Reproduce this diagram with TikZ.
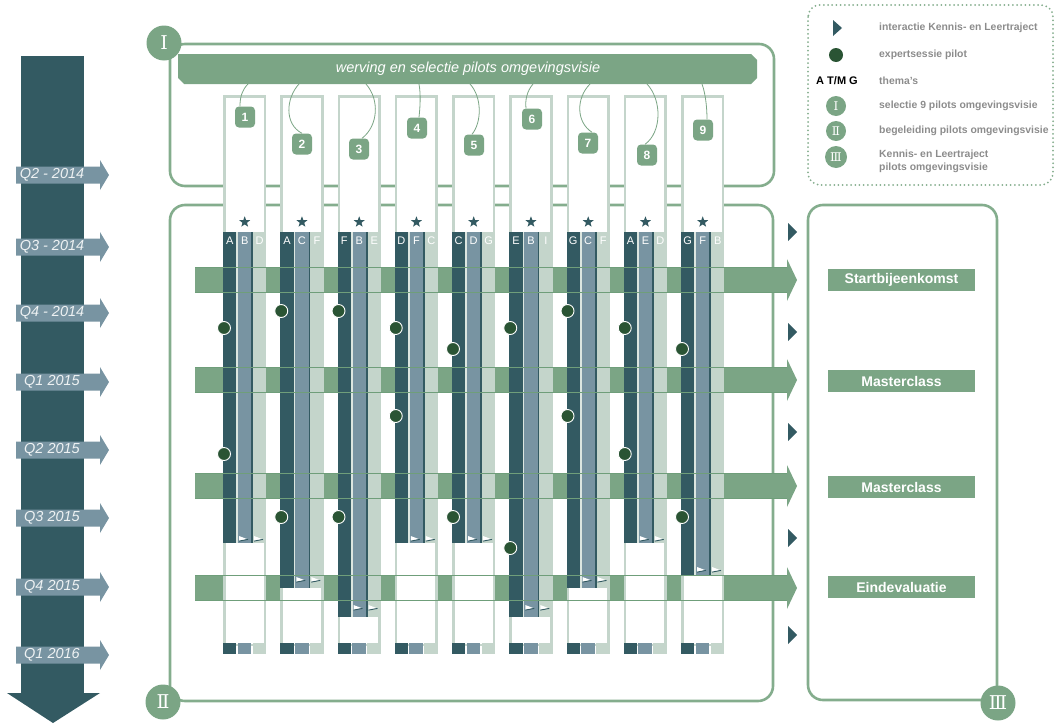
\documentclass[tikz,border=0pt]{standalone}
\usepackage{fontspec}
\setmainfont{Liberation Sans}
\newfontfamily\romfont{DejaVu Serif}
\usetikzlibrary{shapes.geometric}
\definecolor{dteal}{HTML}{335A62}
\definecolor{bgrey}{HTML}{7894A2}
\definecolor{lgreen}{HTML}{C4D5CB}
\definecolor{mgreen}{HTML}{7BA585}
\definecolor{bgreen}{HTML}{84AD8D}
\definecolor{edgegreen}{HTML}{6F9E7A}
\definecolor{dotgreen}{HTML}{2A5434}
\definecolor{legtext}{HTML}{8C8C8C}
\definecolor{qtext}{HTML}{EEF2F3}
\begin{document}
\begin{tikzpicture}[x=1pt,y=-1pt,
  boxline/.style={draw=bgreen, line width=2.6pt, rounded corners=15pt},
  roman/.style={circle, fill=mgreen, minimum size=35pt, inner sep=0pt, text=white, font=\romfont\fontsize{19}{19}\selectfont},
  romansmall/.style={circle, fill=mgreen, minimum size=20pt, inner sep=0pt, text=white, font=\romfont\fontsize{12}{12}\selectfont},
  qlabel/.style={text=qtext, font=\fontsize{14.5}{14.5}\selectfont\itshape, inner sep=0pt},
  letter/.style={text=white, font=\fontsize{11}{11}\selectfont, inner sep=0pt},
  starmark/.style={star, star points=5, star point ratio=2.4, fill=dteal, minimum size=11.5pt, inner sep=0pt},
  dot/.style={circle, fill=dotgreen, draw=white, line width=0.9pt, minimum size=13pt, inner sep=0pt},
  badge/.style={fill=mgreen, rounded corners=4pt, minimum width=20pt, minimum height=21pt, inner sep=0pt, text=white, font=\bfseries\fontsize{12}{12}\selectfont},
  curve/.style={draw=mgreen, line width=0.8pt},
  evt/.style={fill=mgreen, minimum width=147pt, minimum height=22pt, inner sep=0pt, text=white, font=\bfseries\fontsize{14}{14}\selectfont},
  legtxt/.style={anchor=west, text=legtext, font=\bfseries\fontsize{10.4}{13}\selectfont, inner sep=0pt, align=left}
]
\useasboundingbox (0,0) rectangle (1056,723);

% timeline
\fill[dteal] (21,56) rectangle (84,694);
\fill[dteal] (7,693) -- (100,693) -- (53,723) -- cycle;
\foreach \y/\t in {175/Q2 - 2014, 247/Q3 - 2014, 313/Q4 - 2014, 382/Q1 2015, 450/Q2 2015, 518/Q3 2015, 587/Q4 2015, 655/Q1 2016}{
  \fill[bgrey] (16,\y-8.5) -- (100,\y-8.5) -- (100,\y-15) -- (109,\y) -- (100,\y+15) -- (100,\y+8.5) -- (16,\y+8.5) -- cycle;
  \node[qlabel] (q\y) at (52,\y) {\t};
}

% boxes
\draw[boxline] (170,44) rectangle (774,186);
\draw[boxline] (170,205) rectangle (773,701);
\draw[boxline] (808,205) rectangle (997,700);

% banner
\fill[mgreen] (178,54) -- (751,54) -- (757,60) -- (757,78) -- (751,84) -- (184,84) -- (178,78) -- cycle;
\node[text=white, font=\fontsize{14.5}{14.5}\selectfont\itshape] (banner) at (468,69) {werving en selectie pilots omgevingsvisie};

% big horizontal arrows (fill)
\foreach \y in {280,380,486,588}{
  \fill[mgreen] (195,\y-12.5) -- (787,\y-12.5) -- (787,\y-21) -- (797,\y) -- (787,\y+21) -- (787,\y+12.5) -- (195,\y+12.5) -- cycle;
}

% columns
\foreach \i/\ye/\mo/\la/\lb/\lc/\da/\db in {
0/543/4/A/B/D/328/454,
1/588/8/A/C/F/311/517,
2/617/9/F/B/E/311/517,
3/543/4/D/F/C/328/416,
4/543/4/C/D/G/349/517,
5/617/9/E/B/I/328/548,
6/588/8/G/C/F/311/416,
7/543/4/A/E/D/328/454,
8/576/6/G/F/B/349/517}{
  \pgfmathsetmacro\xo{223+57.25*\i}
  \draw[lgreen, line width=2.7pt, fill=white] (\xo+1.35,96.35) rectangle (\xo+41.95,645);
  \fill[dteal] (\xo,232) rectangle (\xo+13.3,\ye);
  \fill[lgreen!60!white] (\xo+13.3,232) rectangle (\xo+15,\ye);
  \fill[bgrey] (\xo+15,232) rectangle (\xo+28.3,\ye);
  \fill[dteal] (\xo+28.3,232) rectangle (\xo+30,\ye);
  \fill[lgreen] (\xo+30,232) rectangle (\xo+43.3,\ye);
  % bottom strips
  \fill[dteal] (\xo,643) rectangle (\xo+13.3,654);
  \fill[bgrey] (\xo+14.6,643) rectangle (\xo+28.3,654);
  \fill[lgreen] (\xo+29.6,643) rectangle (\xo+43.3,654);
  % star and letters
  \node[starmark] (star\i) at (\xo+21.7,222) {};
  \node[letter] (la\i) at (\xo+6.7,241) {\la};
  \node[letter] (lb\i) at (\xo+21.7,241) {\lb};
  \node[letter] (lc\i) at (\xo+36.7,241) {\lc};
  % end markers
  \pgfmathsetmacro\ym{\ye-\mo}
  \foreach \dx in {15,30}{
    \fill[white] (\xo+\dx+1,\ym-3) -- (\xo+\dx+9,\ym) -- (\xo+\dx+1,\ym+2) -- cycle;
    \draw[dteal, line width=0.9pt] (\xo+\dx+1,\ym+2.1) -- (\xo+\dx+10,\ym+0.4);
  }
  % expert sessions
  \node[dot] (dA\i) at (\xo+1,\da) {};
  \node[dot] (dB\i) at (\xo+1,\db) {};
}

% arrow edge lines
\foreach \y in {280,380,486,588}{
  \draw[edgegreen, line width=1.1pt] (195,\y-12.5) -- (787,\y-12.5);
  \draw[edgegreen, line width=1.1pt] (195,\y+12.5) -- (787,\y+12.5);
}

% badges and curves
\node[badge] (b1) at (245,117) {1};
\node[badge] (b2) at (302,144) {2};
\node[badge] (b3) at (359,149) {3};
\node[badge] (b4) at (417,128) {4};
\node[badge] (b5) at (474,145) {5};
\node[badge] (b6) at (532,119) {6};
\node[badge] (b7) at (588,143) {7};
\node[badge] (b8) at (647,155) {8};
\node[badge] (b9) at (703,130) {9};
\coordinate (s1) at (248,84);
\coordinate (s2) at (299,84);
\coordinate (s3) at (366,84);
\coordinate (s4) at (419,84);
\coordinate (s5) at (470,84);
\coordinate (s6) at (533,84);
\coordinate (s7) at (590,84);
\coordinate (s8) at (647,84);
\coordinate (s9) at (702,84);
\draw[curve] (s1) .. controls (242,90) and (240,97) .. ([xshift=-5pt]b1.north);
\draw[curve] (s2) .. controls (286,98) and (284,124) .. (b2.north);
\draw[curve] (s3) .. controls (380,100) and (378,126) .. ([xshift=3pt]b3.north);
\draw[curve] (s4) .. controls (421,95) and (420,108) .. ([xshift=2pt]b4.north);
\draw[curve] (s5) .. controls (482,97) and (482,122) .. ([xshift=-2pt]b5.north);
\draw[curve] (s6) .. controls (527,91) and (525,100) .. ([xshift=-6pt]b6.north);
\draw[curve] (s7) .. controls (576,98) and (576,122) .. ([xshift=4pt]b7.north);
\draw[curve] (s8) .. controls (662,100) and (662,132) .. ([xshift=-2pt]b8.north);
\draw[curve] (s9) .. controls (706,95) and (707,110) .. ([xshift=4pt]b9.north);

% interaction triangles
\foreach \y in {232,332,432,538,635}{
  \fill[dteal] (788,\y-9) -- (797,\y) -- (788,\y+9) -- cycle;
}

% events
\node[evt] (e1) at (901.5,280) {Startbijeenkomst};
\node[evt] (e2) at (901.5,381) {Masterclass};
\node[evt] (e3) at (901.5,487) {Masterclass};
\node[evt] (e4) at (901.5,587) {Eindevaluatie};

% roman circles
\node[roman] (r1) at (164,43) {Ⅰ};
\node[roman] (r2) at (163,702) {Ⅱ};
\node[roman] (r3) at (998,703) {Ⅲ};

% legend
\draw[bgreen, line width=2pt, dash pattern=on 0pt off 4.2pt, line cap=round, rounded corners=12pt] (808,5) rectangle (1053,185);
\fill[dteal] (833,20) -- (842,28) -- (833,36) -- cycle;
\node[circle, fill=dotgreen, minimum size=14pt, inner sep=0pt] (ldot) at (836,55) {};
\node[font=\bfseries\fontsize{11}{11}\selectfont, inner sep=0pt] (lthem) at (837,81) {A T/M G};
\node[romansmall] (lr1) at (836,106) {Ⅰ};
\node[romansmall] (lr2) at (836,131) {Ⅱ};
\node[romansmall, minimum size=22pt] (lr3) at (836,157) {Ⅲ};
\node[legtxt] (t1) at (879,28) {interactie Kennis- en Leertraject};
\node[legtxt] (t2) at (879,55) {expertsessie pilot};
\node[legtxt] (t3) at (879,81) {thema's};
\node[legtxt] (t4) at (879,106) {selectie 9 pilots omgevingsvisie};
\node[legtxt] (t5) at (879,131) {begeleiding pilots omgevingsvisie};
\node[legtxt] (t6) at (879,161.5) {Kennis- en Leertraject\\pilots omgevingsvisie};
\end{tikzpicture}
\end{document}
